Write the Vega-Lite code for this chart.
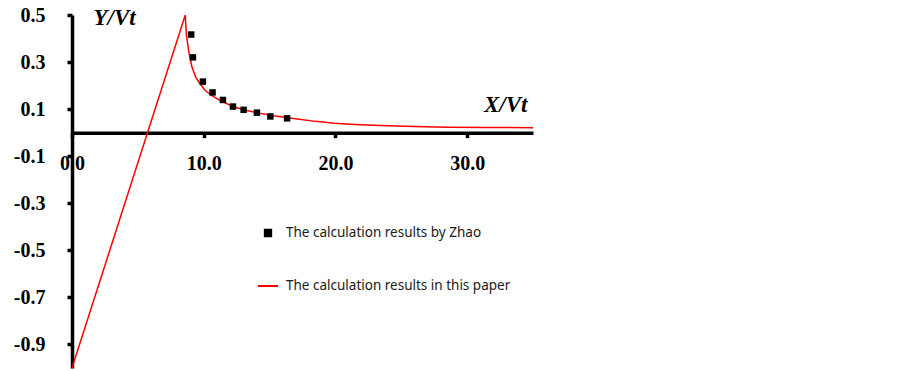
{
  "$schema": "https://vega.github.io/schema/vega-lite/v6.json",
  "width": 461,
  "height": 353,
  "autosize": {"type": "none"},
  "padding": {"left": 72, "top": 15, "right": 370, "bottom": 3},
  "background": "white",
  "config": {
    "view": {"stroke": null},
    "axis": {"grid": false}
  },
  "data": {
    "values": [
      {"series": "The calculation results in this paper", "x": 0, "y": -1.0},
      {"series": "The calculation results in this paper", "x": 8.6, "y": 0.5},
      {"series": "The calculation results in this paper", "x": 8.68, "y": 0.42},
      {"series": "The calculation results in this paper", "x": 8.85, "y": 0.35},
      {"series": "The calculation results in this paper", "x": 9.1, "y": 0.28},
      {"series": "The calculation results in this paper", "x": 9.4, "y": 0.235},
      {"series": "The calculation results in this paper", "x": 9.73, "y": 0.207},
      {"series": "The calculation results in this paper", "x": 10.1, "y": 0.18},
      {"series": "The calculation results in this paper", "x": 10.6, "y": 0.158},
      {"series": "The calculation results in this paper", "x": 11.25, "y": 0.136},
      {"series": "The calculation results in this paper", "x": 12.27, "y": 0.11},
      {"series": "The calculation results in this paper", "x": 13.28, "y": 0.094},
      {"series": "The calculation results in this paper", "x": 14.3, "y": 0.082},
      {"series": "The calculation results in this paper", "x": 15.3, "y": 0.072},
      {"series": "The calculation results in this paper", "x": 17.1, "y": 0.058},
      {"series": "The calculation results in this paper", "x": 18.5, "y": 0.048},
      {"series": "The calculation results in this paper", "x": 19.9, "y": 0.04},
      {"series": "The calculation results in this paper", "x": 21.5, "y": 0.035},
      {"series": "The calculation results in this paper", "x": 23.4, "y": 0.03},
      {"series": "The calculation results in this paper", "x": 26.0, "y": 0.026},
      {"series": "The calculation results in this paper", "x": 28.5, "y": 0.023},
      {"series": "The calculation results in this paper", "x": 31.5, "y": 0.022},
      {"series": "The calculation results in this paper", "x": 35.0, "y": 0.021},
      {"series": "The calculation results by Zhao", "x": 9.05, "y": 0.417},
      {"series": "The calculation results by Zhao", "x": 9.18, "y": 0.32},
      {"series": "The calculation results by Zhao", "x": 9.94, "y": 0.217},
      {"series": "The calculation results by Zhao", "x": 10.67, "y": 0.171},
      {"series": "The calculation results by Zhao", "x": 11.46, "y": 0.139},
      {"series": "The calculation results by Zhao", "x": 12.22, "y": 0.111},
      {"series": "The calculation results by Zhao", "x": 13.03, "y": 0.097},
      {"series": "The calculation results by Zhao", "x": 14.04, "y": 0.085},
      {"series": "The calculation results by Zhao", "x": 15.06, "y": 0.069},
      {"series": "The calculation results by Zhao", "x": 16.33, "y": 0.061}
    ]
  },
  "encoding": {
    "x": {
      "field": "x",
      "type": "quantitative",
      "scale": {"domain": [0, 35], "nice": false, "zero": false},
      "axis": {
        "orient": "bottom",
        "offset": {"expr": "scale('y', 0) - height"},
        "values": [0, 10, 20, 30],
        "format": ".1f",
        "domainColor": "black",
        "domainWidth": 3.5,
        "domainCap": "butt",
        "tickColor": "black",
        "tickWidth": 3.5,
        "tickSize": 5,
        "labelFont": "Liberation Serif",
        "labelFontWeight": "bold",
        "labelFontSize": 20,
        "labelColor": "black",
        "labelPadding": 16,
        "labelBaseline": "top",
        "labelFlush": false,
        "labelOverlap": false,
        "title": "X/Vt",
        "titleFont": "Liberation Serif",
        "titleFontStyle": "italic",
        "titleFontWeight": "bold",
        "titleFontSize": 23,
        "titleColor": "black",
        "titleAnchor": null,
        "titleAlign": "right",
        "titleBaseline": "alphabetic",
        "titleX": 455,
        "titleY": -21
      }
    },
    "y": {
      "field": "y",
      "type": "quantitative",
      "scale": {"domain": [-1, 0.5], "nice": false, "zero": false},
      "axis": {
        "values": [0.5, 0.3, 0.1, -0.1, -0.3, -0.5, -0.7, -0.9],
        "labelExpr": "(datum.value < 0 ? '-' : '') + format(abs(datum.value), '.1f')",
        "domainColor": "black",
        "domainWidth": 3.5,
        "domainCap": "butt",
        "tickColor": "black",
        "tickWidth": 3.5,
        "tickSize": 5,
        "labelFont": "Liberation Serif",
        "labelFontWeight": "bold",
        "labelFontSize": 20,
        "labelColor": "black",
        "labelPadding": 22,
        "labelFlush": false,
        "labelOverlap": false,
        "title": "Y/Vt",
        "titleFont": "Liberation Serif",
        "titleFontStyle": "italic",
        "titleFontWeight": "bold",
        "titleFontSize": 23,
        "titleColor": "black",
        "titleAngle": 0,
        "titleAnchor": null,
        "titleAlign": "left",
        "titleBaseline": "alphabetic",
        "titleX": 21,
        "titleY": 9
      }
    },
    "color": {
      "field": "series",
      "type": "nominal",
      "scale": {
        "domain": ["The calculation results by Zhao", "The calculation results in this paper"],
        "range": ["black", "#ff0000"]
      },
      "legend": {
        "orient": "none",
        "legendX": 185,
        "legendY": 207,
        "title": null,
        "labelFont": "Noto Sans",
        "labelFontSize": 13.5,
        "labelColor": "#1a1a1a",
        "labelOffset": 7,
        "labelLimit": 0,
        "rowPadding": 34,
        "symbolSize": 400,
        "encode": {
          "symbols": {
            "update": {
              "shape": {"signal": "datum.value === 'The calculation results by Zhao' ? 'square' : 'stroke'"},
              "size": {"signal": "datum.value === 'The calculation results by Zhao' ? 40 : 400"},
              "fill": {"signal": "datum.value === 'The calculation results by Zhao' ? 'black' : 'transparent'"},
              "stroke": {"signal": "datum.value === 'The calculation results by Zhao' ? 'transparent' : '#ff0000'"},
              "strokeWidth": {"value": 2},
              "opacity": {"value": 1}
            }
          }
        }
      }
    }
  },
  "layer": [
    {
      "transform": [{"filter": "datum.series === 'The calculation results in this paper'"}],
      "mark": {"type": "line", "strokeWidth": 1.5, "clip": true}
    },
    {
      "transform": [{"filter": "datum.series === 'The calculation results by Zhao'"}],
      "mark": {"type": "point", "shape": "square", "filled": true, "size": 42, "opacity": 1}
    }
  ]
}
